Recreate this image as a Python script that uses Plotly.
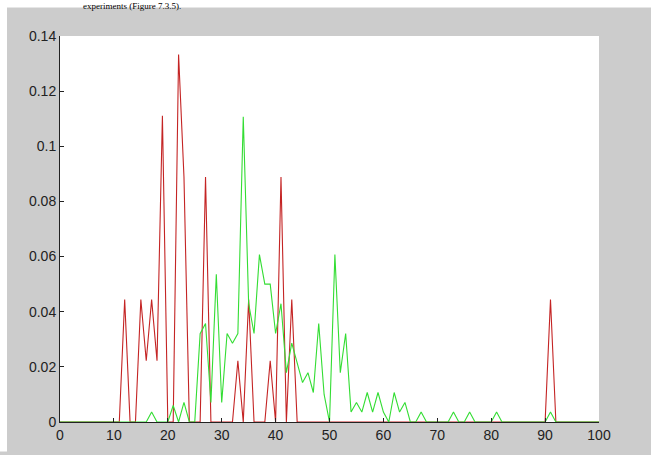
import plotly.graph_objects as go

# Bin positions 0..100
positions = list(range(0, 101))

# Red series: mostly zero, with spikes
red_values = [
    0, 0, 0, 0, 0, 0, 0, 0, 0, 0,            # 0-9
    0, 0, 0.0444, 0, 0, 0.0444, 0.0222, 0.0444, 0.0222, 0.1111,   # 10-19
    0, 0, 0.1333, 0.0889, 0, 0, 0, 0.0889, 0, 0,                  # 20-29
    0, 0, 0, 0.0222, 0, 0.0444, 0, 0, 0, 0.0222,                  # 30-39
    0, 0.0889, 0, 0.0444, 0, 0, 0, 0, 0, 0,                       # 40-49
    0, 0, 0, 0, 0, 0, 0, 0, 0, 0,            # 50-59
    0, 0, 0, 0, 0, 0, 0, 0, 0, 0,            # 60-69
    0, 0, 0, 0, 0, 0, 0, 0, 0, 0,            # 70-79
    0, 0, 0, 0, 0, 0, 0, 0, 0, 0,            # 80-89
    0, 0.0444, 0, 0, 0, 0, 0, 0, 0, 0,       # 90-99
    0,                                        # 100
]

# Green series
green_values = [
    0, 0, 0, 0, 0, 0, 0, 0, 0, 0,                                         # 0-9
    0, 0, 0, 0, 0, 0, 0, 0.0036, 0, 0,                                    # 10-19
    0, 0.006, 0, 0.0071, 0, 0, 0.032, 0.0357, 0.0071, 0.0536,             # 20-29
    0.0071, 0.0321, 0.0286, 0.0321, 0.1107, 0.0429, 0.0321, 0.0607, 0.05, 0.05,   # 30-39
    0.0321, 0.0429, 0.0179, 0.0286, 0.0214, 0.0143, 0.0179, 0.0107, 0.0357, 0.01, # 40-49
    0, 0.0607, 0.0179, 0.0321, 0.0036, 0.0071, 0.0036, 0.0107, 0.0036, 0.0107,    # 50-59
    0.0036, 0, 0.0107, 0.0036, 0.0071, 0, 0, 0.0036, 0, 0,                 # 60-69
    0, 0, 0, 0.0036, 0, 0, 0.0036, 0, 0, 0,                                # 70-79
    0, 0.0036, 0, 0, 0, 0, 0, 0, 0, 0,                                     # 80-89
    0, 0.0036, 0, 0, 0, 0, 0, 0, 0, 0,                                     # 90-99
    0,                                                                     # 100
]

x_ticks = list(range(0, 101, 10))
x_ticktext = [str(v) for v in x_ticks]
y_ticks = [0, 0.02, 0.04, 0.06, 0.08, 0.1, 0.12, 0.14]
y_ticktext = ["0", "0.02", "0.04", "0.06", "0.08", "0.1", "0.12", "0.14"]

W, H = 651, 455
ML, MR, MT, MB = 60, 52, 36, 25
PW, PH = W - ML - MR, H - MT - MB


def px_x(p):
    return (p - ML) / PW


def px_y(p):
    return (H - MB - p) / PH


fig = go.Figure()
fig.add_trace(go.Scatter(x=positions, y=red_values, mode="lines",
                         line=dict(color="#c42424", width=1.1),
                         showlegend=False, hoverinfo="skip"))
fig.add_trace(go.Scatter(x=positions, y=green_values, mode="lines",
                         line=dict(color="#33dd33", width=1.1),
                         showlegend=False, hoverinfo="skip"))

tick_font = dict(family="Liberation Sans, Arial, sans-serif", size=14, color="#222222")

fig.update_layout(
    width=W, height=H,
    margin=dict(l=ML, r=MR, t=MT, b=MB, pad=0),
    paper_bgcolor="#cccccc",
    plot_bgcolor="#ffffff",
    xaxis=dict(range=[0, 100], tickmode="array", tickvals=x_ticks, ticktext=x_ticktext,
               ticks="inside", ticklen=4, tickcolor="#222222", tickwidth=1,
               showline=True, linecolor="#222222", linewidth=1, mirror=False,
               showgrid=False, zeroline=False, tickfont=tick_font, fixedrange=True),
    yaxis=dict(range=[0, 0.14], tickmode="array", tickvals=y_ticks, ticktext=y_ticktext,
               ticks="inside", ticklen=4, tickcolor="#222222", tickwidth=1,
               showline=True, linecolor="#222222", linewidth=1, mirror=False,
               showgrid=False, zeroline=False, tickfont=tick_font, fixedrange=True),
    shapes=[
        # white page strip along the top
        dict(type="rect", xref="paper", yref="paper", layer="above",
             x0=px_x(0), x1=px_x(W + 5), y0=px_y(7), y1=px_y(-5),
             fillcolor="#ffffff", line=dict(width=0)),
        # white page strip along the left edge
        dict(type="rect", xref="paper", yref="paper", layer="above",
             x0=px_x(-5), x1=px_x(7), y0=px_y(H + 5), y1=px_y(-5),
             fillcolor="#ffffff", line=dict(width=0)),
    ],
    annotations=[
        dict(text="experiments (Figure 7.3.5).", xref="paper", yref="paper",
             x=px_x(82), y=px_y(-1), xanchor="left", yanchor="top",
             showarrow=False, borderpad=0,
             font=dict(family="Liberation Serif, Times New Roman, serif", size=9, color="#000000")),
    ],
)

fig.write_html("out.html")
